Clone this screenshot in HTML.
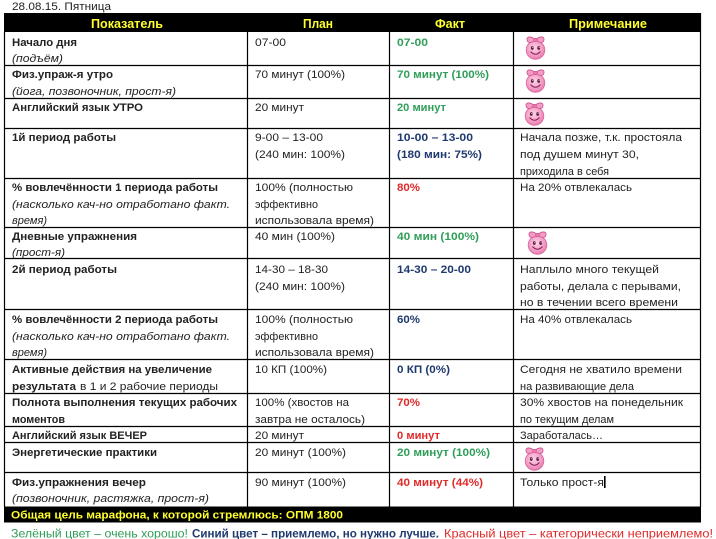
<!DOCTYPE html>
<html><head><meta charset="utf-8"><style>
html,body{margin:0;padding:0;background:#fff;}
svg{display:block;}
text{font-family:"Liberation Sans","DejaVu Sans",sans-serif;font-size:11px;fill:#222;}
.b{font-weight:bold;}
.i{font-style:italic;}
.h{font-weight:bold;font-size:13px;fill:#ffff2e;}
.g{fill:#2f9e58;font-weight:bold;}
.bl{fill:#1f3a6e;font-weight:bold;}
.r{fill:#e02a2a;font-weight:bold;}
</style></head><body>
<svg width="716" height="539" viewBox="0 0 716 539" xmlns="http://www.w3.org/2000/svg">
<defs>
<radialGradient id="pg" cx="45%" cy="40%" r="60%">
<stop offset="0" stop-color="#fdd3e6"/><stop offset="0.7" stop-color="#f39ac4"/><stop offset="1" stop-color="#e47aab"/>
</radialGradient>
<symbol id="sm" viewBox="0 0 25 25">
<circle cx="12.5" cy="15" r="9.3" fill="url(#pg)" stroke="#d9679f" stroke-width="0.8"/>
<path d="M12.5 5 C9 1 3.5 1 4 4.5 C4 8.5 9 8 12.5 5 Z" fill="#f59cc6" stroke="#c9508a" stroke-width="0.8"/>
<path d="M12.5 5 C16 1 21.5 1 21 4.5 C21 8.5 16 8 12.5 5 Z" fill="#f59cc6" stroke="#c9508a" stroke-width="0.8"/>
<ellipse cx="12.5" cy="5" rx="1.8" ry="1.6" fill="#f07bb1" stroke="#c9508a" stroke-width="0.7"/>
<ellipse cx="9.3" cy="13" rx="1.4" ry="1.9" fill="#5a1f40"/>
<ellipse cx="15.7" cy="13" rx="1.4" ry="1.9" fill="#5a1f40"/>
<circle cx="9.7" cy="12.4" r="0.5" fill="#fff"/>
<circle cx="16.1" cy="12.4" r="0.5" fill="#fff"/>
<path d="M7.5 16.5 Q12.5 22 17.5 16.5" fill="none" stroke="#8a2558" stroke-width="1.1"/>
</symbol>
</defs>

<text x="12" y="10" textLength="99" lengthAdjust="spacingAndGlyphs">28.08.15. Пятница</text>

<!-- header -->
<rect x="4" y="13" width="697" height="19" fill="#000"/>
<text class="h" x="91" y="28" textLength="72" lengthAdjust="spacingAndGlyphs">Показатель</text>
<text class="h" x="303" y="28" textLength="30" lengthAdjust="spacingAndGlyphs">План</text>
<text class="h" x="435" y="28" textLength="30" lengthAdjust="spacingAndGlyphs">Факт</text>
<text class="h" x="569" y="28" textLength="78" lengthAdjust="spacingAndGlyphs">Примечание</text>

<!-- grid -->
<g stroke="#000" stroke-width="1.2">
<line x1="4.5" y1="32" x2="4.5" y2="507"/>
<line x1="247.5" y1="32" x2="247.5" y2="507"/>
<line x1="389.5" y1="32" x2="389.5" y2="507"/>
<line x1="513.5" y1="32" x2="513.5" y2="507"/>
<line x1="700.5" y1="13" x2="700.5" y2="507"/>
<line x1="4" y1="65.5" x2="701" y2="65.5"/>
<line x1="4" y1="98.5" x2="701" y2="98.5"/>
<line x1="4" y1="128.5" x2="701" y2="128.5"/>
<line x1="4" y1="178.5" x2="701" y2="178.5"/>
<line x1="4" y1="227.5" x2="701" y2="227.5"/>
<line x1="4" y1="258.5" x2="701" y2="258.5"/>
<line x1="4" y1="309.5" x2="701" y2="309.5"/>
<line x1="4" y1="359.5" x2="701" y2="359.5"/>
<line x1="4" y1="393.5" x2="701" y2="393.5"/>
<line x1="4" y1="426.5" x2="701" y2="426.5"/>
<line x1="4" y1="442.5" x2="701" y2="442.5"/>
<line x1="4" y1="472.5" x2="701" y2="472.5"/>
</g>

<!-- col1 -->
<text class="b" x="12" y="46" textLength="65" lengthAdjust="spacingAndGlyphs">Начало дня</text>
<text class="i" x="12" y="62" textLength="51" lengthAdjust="spacingAndGlyphs">(подъём)</text>
<text class="b" x="12" y="78" textLength="101" lengthAdjust="spacingAndGlyphs">Физ.упраж-я утро</text>
<text class="i" x="12" y="95" textLength="164" lengthAdjust="spacingAndGlyphs">(йога, позвоночник, прост-я)</text>
<text class="b" x="12" y="111" textLength="131" lengthAdjust="spacingAndGlyphs">Английский язык УТРО</text>
<text class="b" x="12" y="141" textLength="104" lengthAdjust="spacingAndGlyphs">1й период работы</text>
<text class="b" x="12" y="191" textLength="206" lengthAdjust="spacingAndGlyphs">% вовлечённости  1 периода работы</text>
<text class="i" x="12" y="208" textLength="218" lengthAdjust="spacingAndGlyphs">(насколько кач-но отработано факт.</text>
<text class="i" x="12" y="224" textLength="35" lengthAdjust="spacingAndGlyphs">время)</text>
<text class="b" x="12" y="240" textLength="125" lengthAdjust="spacingAndGlyphs">Дневные упражнения</text>
<text class="i" x="12" y="256" textLength="53" lengthAdjust="spacingAndGlyphs">(прост-я)</text>
<text class="b" x="12" y="273" textLength="105" lengthAdjust="spacingAndGlyphs">2й период работы</text>
<text class="b" x="12" y="323" textLength="206" lengthAdjust="spacingAndGlyphs">% вовлечённости  2 периода работы</text>
<text class="i" x="12" y="340" textLength="218" lengthAdjust="spacingAndGlyphs">(насколько кач-но отработано факт.</text>
<text class="i" x="12" y="356" textLength="35" lengthAdjust="spacingAndGlyphs">время)</text>
<text class="b" x="12" y="373" textLength="200" lengthAdjust="spacingAndGlyphs">Активные действия  на увеличение</text>
<text class="b" x="12" y="390" textLength="64" lengthAdjust="spacingAndGlyphs">результата</text>
<text x="80" y="390" textLength="138" lengthAdjust="spacingAndGlyphs">в 1 и 2 рабочие периоды</text>
<text class="b" x="12" y="406" textLength="225" lengthAdjust="spacingAndGlyphs">Полнота выполнения  текущих  рабочих</text>
<text class="b" x="12" y="423" textLength="53" lengthAdjust="spacingAndGlyphs">моментов</text>
<text class="b" x="12" y="439" textLength="135" lengthAdjust="spacingAndGlyphs">Английский  язык ВЕЧЕР</text>
<text class="b" x="12" y="456" textLength="145" lengthAdjust="spacingAndGlyphs">Энергетические практики</text>
<text class="b" x="12" y="486" textLength="134" lengthAdjust="spacingAndGlyphs">Физ.упражнения  вечер</text>
<text class="i" x="12" y="502" textLength="197" lengthAdjust="spacingAndGlyphs">(позвоночник, растяжка,  прост-я)</text>

<!-- col2 -->
<text x="255" y="46" textLength="31" lengthAdjust="spacingAndGlyphs">07-00</text>
<text x="255" y="78" textLength="90" lengthAdjust="spacingAndGlyphs">70 минут (100%)</text>
<text x="255" y="111" textLength="49" lengthAdjust="spacingAndGlyphs">20 минут</text>
<text x="255" y="141" textLength="68" lengthAdjust="spacingAndGlyphs">9-00 – 13-00</text>
<text x="255" y="158" textLength="90" lengthAdjust="spacingAndGlyphs">(240 мин: 100%)</text>
<text x="255" y="191" textLength="98" lengthAdjust="spacingAndGlyphs">100% (полностью</text>
<text x="255" y="208" textLength="63" lengthAdjust="spacingAndGlyphs">эффективно</text>
<text x="255" y="224" textLength="119" lengthAdjust="spacingAndGlyphs">использовала время)</text>
<text x="255" y="240" textLength="80" lengthAdjust="spacingAndGlyphs">40 мин (100%)</text>
<text x="255" y="273" textLength="73" lengthAdjust="spacingAndGlyphs">14-30 – 18-30</text>
<text x="255" y="290" textLength="90" lengthAdjust="spacingAndGlyphs">(240 мин: 100%)</text>
<text x="255" y="323" textLength="98" lengthAdjust="spacingAndGlyphs">100% (полностью</text>
<text x="255" y="340" textLength="63" lengthAdjust="spacingAndGlyphs">эффективно</text>
<text x="255" y="356" textLength="119" lengthAdjust="spacingAndGlyphs">использовала время)</text>
<text x="255" y="373" textLength="72" lengthAdjust="spacingAndGlyphs">10 КП (100%)</text>
<text x="255" y="406" textLength="94" lengthAdjust="spacingAndGlyphs">100% (хвостов на</text>
<text x="255" y="423" textLength="110" lengthAdjust="spacingAndGlyphs">завтра не осталось)</text>
<text x="255" y="439" textLength="49" lengthAdjust="spacingAndGlyphs">20 минут</text>
<text x="255" y="456" textLength="91" lengthAdjust="spacingAndGlyphs">20 минут (100%)</text>
<text x="255" y="486" textLength="91" lengthAdjust="spacingAndGlyphs">90 минут (100%)</text>

<!-- col3 -->
<text class="g" x="397" y="46" textLength="31" lengthAdjust="spacingAndGlyphs">07-00</text>
<text class="g" x="397" y="78" textLength="92" lengthAdjust="spacingAndGlyphs">70 минут (100%)</text>
<text class="g" x="397" y="111" textLength="49" lengthAdjust="spacingAndGlyphs">20 минут</text>
<text class="bl" x="397" y="141" textLength="76" lengthAdjust="spacingAndGlyphs">10-00 – 13-00</text>
<text class="bl" x="397" y="158" textLength="85" lengthAdjust="spacingAndGlyphs">(180 мин: 75%)</text>
<text class="r" x="397" y="191" textLength="23" lengthAdjust="spacingAndGlyphs">80%</text>
<text class="g" x="397" y="240" textLength="82" lengthAdjust="spacingAndGlyphs">40 мин (100%)</text>
<text class="bl" x="397" y="273" textLength="74" lengthAdjust="spacingAndGlyphs">14-30 – 20-00</text>
<text class="bl" x="397" y="323" textLength="23" lengthAdjust="spacingAndGlyphs">60%</text>
<text class="bl" x="397" y="373" textLength="53" lengthAdjust="spacingAndGlyphs">0 КП (0%)</text>
<text class="r" x="397" y="406" textLength="23" lengthAdjust="spacingAndGlyphs">70%</text>
<text class="r" x="397" y="439" textLength="43" lengthAdjust="spacingAndGlyphs">0 минут</text>
<text class="g" x="397" y="456" textLength="93" lengthAdjust="spacingAndGlyphs">20 минут (100%)</text>
<text class="r" x="397" y="486" textLength="86" lengthAdjust="spacingAndGlyphs">40 минут (44%)</text>

<!-- col4 -->
<use href="#sm" x="523" y="35" width="25" height="25"/>
<use href="#sm" x="523" y="68" width="25" height="25"/>
<use href="#sm" x="522" y="101" width="25" height="25"/>
<use href="#sm" x="525" y="230" width="25" height="25"/>
<use href="#sm" x="522" y="446" width="25" height="25"/>
<text x="520" y="141" textLength="162" lengthAdjust="spacingAndGlyphs">Начала позже, т.к. простояла</text>
<text x="520" y="158" textLength="119" lengthAdjust="spacingAndGlyphs">под душем минут 30,</text>
<text x="520" y="175" textLength="89" lengthAdjust="spacingAndGlyphs">приходила в себя</text>
<text x="520" y="191" textLength="112" lengthAdjust="spacingAndGlyphs">На 20% отвлекалась</text>
<text x="520" y="273" textLength="139" lengthAdjust="spacingAndGlyphs">Наплыло много текущей</text>
<text x="520" y="290" textLength="161" lengthAdjust="spacingAndGlyphs">работы, делала с перывами,</text>
<text x="520" y="306" textLength="158" lengthAdjust="spacingAndGlyphs">но в течении всего времени</text>
<text x="520" y="323" textLength="112" lengthAdjust="spacingAndGlyphs">На 40% отвлекалась</text>
<text x="520" y="373" textLength="162" lengthAdjust="spacingAndGlyphs">Сегодня не хватило времени</text>
<text x="520" y="390" textLength="114" lengthAdjust="spacingAndGlyphs">на развивающие дела</text>
<text x="520" y="406" textLength="163" lengthAdjust="spacingAndGlyphs">30% хвостов на понедельник</text>
<text x="520" y="423" textLength="94" lengthAdjust="spacingAndGlyphs">по текущим делам</text>
<text x="520" y="439" textLength="83" lengthAdjust="spacingAndGlyphs">Заработалась…</text>
<text x="520" y="486" textLength="84" lengthAdjust="spacingAndGlyphs">Только прост-я</text>
<rect x="604" y="476" width="1.6" height="12" fill="#000"/>

<!-- footer -->
<rect x="4" y="506.5" width="697" height="16" fill="#000"/>
<text class="b" x="11" y="518.5" textLength="332" lengthAdjust="spacingAndGlyphs" style="fill:#ffff2e">Общая цель марафона,  к которой  стремлюсь:  ОПМ 1800</text>

<!-- legend -->
<text x="11" y="537.5" textLength="177" lengthAdjust="spacingAndGlyphs" style="font-size:11.5px;fill:#2f9e58">Зелёный цвет – очень хорошо!</text>
<text class="bl" x="192" y="537.5" textLength="247" lengthAdjust="spacingAndGlyphs" style="font-size:11.5px">Синий цвет – приемлемо, но нужно лучше.</text>
<text x="444" y="537.5" textLength="269" lengthAdjust="spacingAndGlyphs" style="font-size:11.5px;fill:#e02a2a">Красный  цвет – категорически  неприемлемо!</text>
</svg>
</body></html>
